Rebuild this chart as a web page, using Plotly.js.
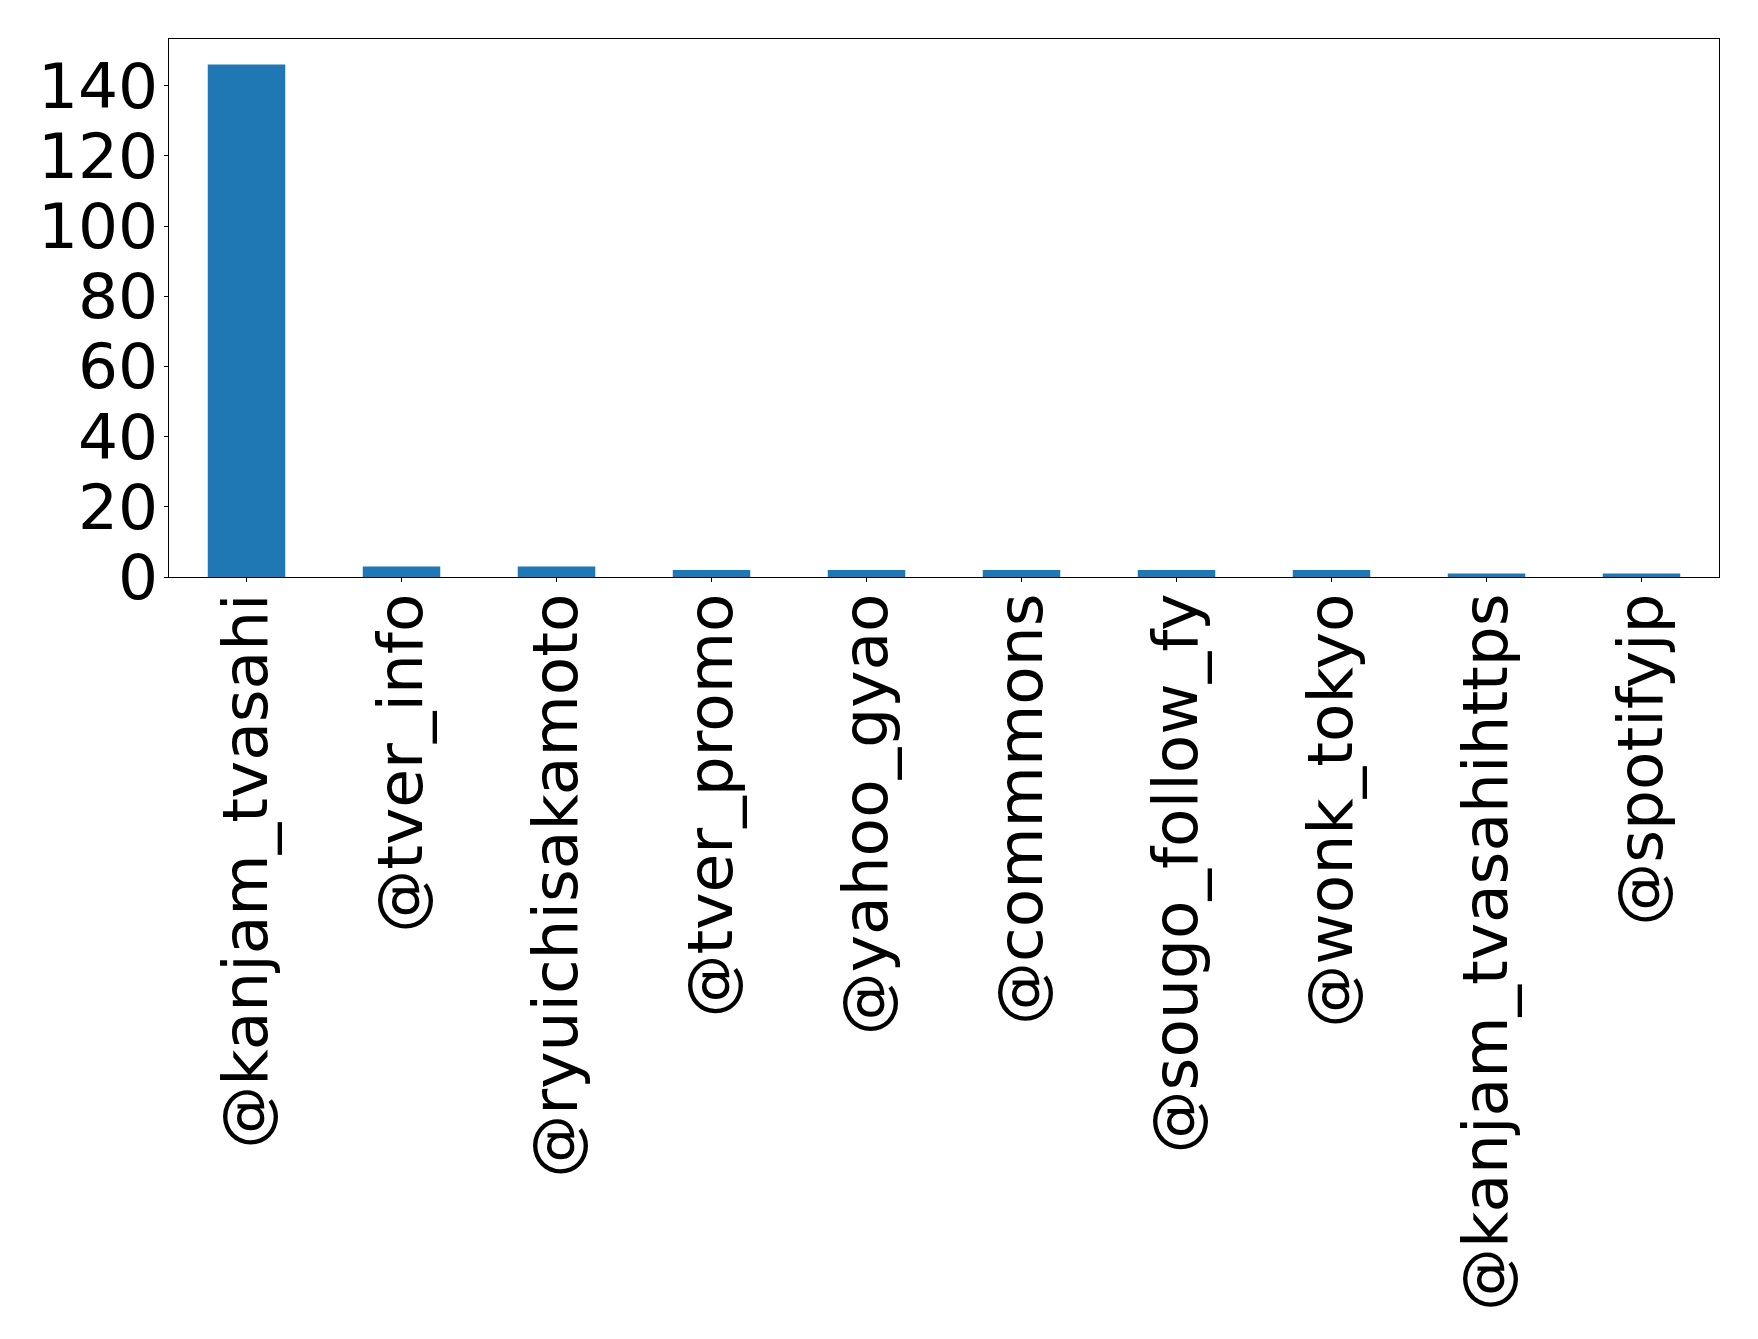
<!DOCTYPE html>
<html>
<head>
<meta charset="utf-8">
<script src="https://cdn.plot.ly/plotly-3.0.1.min.js"></script>
<style>html,body{margin:0;padding:0;background:#fff;}#chart{width:1758px;height:1339px;}</style>
</head>
<body>
<div id="chart"></div>
<script>
const categories = ["@kanjam_tvasahi","@tver_info","@ryuichisakamoto","@tver_promo","@yahoo_gyao","@commmons","@sougo_follow_fy","@wonk_tokyo","@kanjam_tvasahihttps","@spotifyjp"];
const counts = [146, 3, 3, 2, 2, 2, 2, 2, 1, 1];
const yTicks = [0, 20, 40, 60, 80, 100, 120, 140];

const fontFamily = "DejaVu Sans, sans-serif";
const trace = {
  type: "bar",
  x: categories.map((c, i) => i),
  y: counts,
  width: 0.5,
  marker: {color: "#1f77b4", line: {width: 0}},
  hoverinfo: "skip"
};
const maxV = Math.max(...counts);
const layout = {
  width: 1758, height: 1339,
  margin: {l: 169, r: 39, t: 39, b: 762, pad: 0},
  paper_bgcolor: "#fff", plot_bgcolor: "#fff",
  showlegend: false,
  font: {family: fontFamily, color: "#000", size: 63},
  xaxis: {
    range: [-0.5, categories.length - 0.5],
    tickmode: "array", tickvals: categories.map((c, i) => i), ticktext: categories,
    tickangle: -90, ticks: "outside", ticklen: 4, tickwidth: 1, tickcolor: "#000",
    ticklabelstandoff: -14,
    showline: true, mirror: true, linecolor: "#000", linewidth: 1.2,
    showgrid: false, zeroline: false,
    tickfont: {family: fontFamily, size: 63, color: "#000"}, automargin: false
  },
  yaxis: {
    range: [0, maxV * 1.05],
    tickmode: "array", tickvals: yTicks, ticktext: yTicks.map(String),
    ticks: "outside", ticklen: 4, tickwidth: 1, tickcolor: "#000",
    ticklabelstandoff: -7,
    showline: true, mirror: true, linecolor: "#000", linewidth: 1.2,
    showgrid: false, zeroline: false,
    tickfont: {family: fontFamily, size: 63, color: "#000"}, automargin: false
  }
};
Plotly.newPlot("chart", [trace], layout, {staticPlot: true, displayModeBar: false});
</script>
</body>
</html>
